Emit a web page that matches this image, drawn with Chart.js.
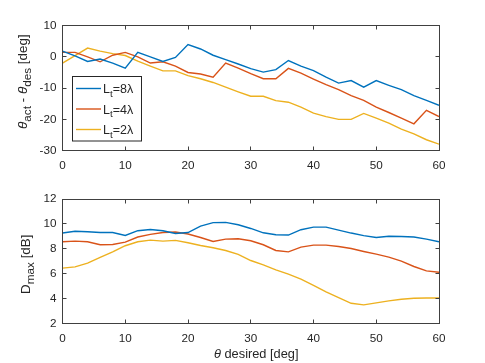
<!DOCTYPE html>
<html>
<head>
<meta charset="utf-8">
<script src="https://cdn.jsdelivr.net/npm/chart.js@4.4.1/dist/chart.umd.min.js"></script>
<style>
  html, body { margin: 0; padding: 0; background: #fff; }
  #wrap { position: relative; width: 485px; height: 363px; }
  #wrap canvas { position: absolute; left: 0; top: 0; }
</style>
</head>
<body>
<div id="wrap">
  <canvas id="errChart" width="485" height="363"></canvas>
  <canvas id="dmaxChart" width="485" height="363"></canvas>
</div>
<script>
// theta desired [deg]
const thetaDes = [0, 2, 4, 6, 8, 10, 12, 14, 16, 18, 20, 22, 24, 26, 28, 30,
                  32, 34, 36, 38, 40, 42, 44, 46, 48, 50, 52, 54, 56, 58, 60];

// pointing error theta_act - theta_des [deg]
const err8 = [1.8, 0.3, -1.5, -0.7, -2.0, -3.6, 1.4, 0, -1.5, -0.2, 3.9, 2.5, 0.5, -0.9, -2.3, -3.8,
              -4.9, -4.1, -1.2, -3.0, -4.4, -6.5, -8.4, -7.6, -9.7, -7.6, -9.1, -10.5, -12.4, -13.9, -15.5];
const err4 = [1.4, 1.4, 0, -1.6, 0.5, 1.4, 0, -2.0, -1.6, -3.0, -5.0, -5.5, -6.5, -2.0, -3.6, -5.4,
              -7.0, -7.0, -3.7, -5.2, -7.1, -8.9, -10.5, -12.4, -13.9, -16.1, -17.8, -19.6, -21.4, -17.1, -19.1];
const err2 = [-2.0, 0.4, 2.8, 1.8, 1.0, 0.4, -1.4, -3.0, -4.5, -4.5, -6.0, -7.0, -8.2, -9.7, -11.2, -12.6,
              -12.6, -14.0, -14.5, -16.1, -18.0, -19.1, -20.0, -20.0, -18.1, -19.6, -21.2, -23.1, -24.6, -26.5, -27.9];

// max directivity [dB]
const dmax8 = [9.26, 9.4, 9.37, 9.3, 9.3, 9.07, 9.45, 9.55, 9.45, 9.23, 9.3, 9.82, 10.1, 10.12, 9.93, 9.63,
               9.28, 9.12, 9.1, 9.53, 9.74, 9.74, 9.5, 9.26, 9.05, 8.9, 9.0, 8.98, 8.94, 8.77, 8.56];
const dmax4 = [8.56, 8.61, 8.56, 8.32, 8.34, 8.53, 8.94, 9.15, 9.3, 9.34, 9.18, 8.9, 8.58, 8.77, 8.8, 8.64,
               8.32, 7.86, 7.75, 8.13, 8.29, 8.29, 8.18, 8.02, 7.78, 7.56, 7.32, 7.0, 6.57, 6.22, 6.11];
const dmax2 = [6.44, 6.54, 6.84, 7.3, 7.75, 8.24, 8.56, 8.69, 8.61, 8.67, 8.48, 8.26, 8.08, 7.86, 7.54, 7.05,
               6.7, 6.3, 5.95, 5.55, 5.06, 4.53, 4.07, 3.61, 3.48, 3.64, 3.8, 3.94, 4.02, 4.04, 4.04];

const seriesNames = ["8", "4", "2"];   // L_t = N lambda
const colors = ["#0072BD", "#D95319", "#EDB120"];

const FONT = "'Liberation Sans', Arial, sans-serif";
const AX = "#262626";

// draw text made of parts (italic / subscript) starting at x, baseline y
function richText(ctx, parts, x, y, size, subScale) {
  let cx = x;
  for (const p of parts) {
    const fs = p.sub ? size * (subScale || 0.78) : size;
    ctx.font = `${p.it ? "italic " : ""}${fs}px ${FONT}`;
    ctx.fillText(p.t, cx, y + (p.sub ? size * 0.3 : 0));
    cx += ctx.measureText(p.t).width;
  }
  return cx - x;
}

// MATLAB style box with inward ticks
const boxPlugin = {
  id: "box",
  afterDraw(chart) {
    const { ctx, chartArea: a, scales } = chart;
    const L = Math.floor(a.left) + 0.5, R = Math.floor(a.right) + 0.5;
    const T = Math.floor(a.top) + 0.5, B = Math.floor(a.bottom) + 0.5;
    ctx.save();
    ctx.strokeStyle = "#404040";
    ctx.lineWidth = 1;
    ctx.strokeRect(L, T, R - L, B - T);
    ctx.beginPath();
    scales.x.ticks.forEach(t => {
      const px = Math.floor(scales.x.getPixelForValue(t.value)) + 0.5;
      ctx.moveTo(px, B); ctx.lineTo(px, B - 4);
      ctx.moveTo(px, T); ctx.lineTo(px, T + 4);
    });
    scales.y.ticks.forEach(t => {
      const py = Math.floor(scales.y.getPixelForValue(t.value)) + 0.5;
      ctx.moveTo(L, py); ctx.lineTo(L + 4, py);
      ctx.moveTo(R, py); ctx.lineTo(R - 4, py);
    });
    ctx.stroke();
    ctx.restore();
  }
};

// axis titles (with subscripts) and legend
const textPlugin = {
  id: "texts",
  afterDraw(chart, args, opts) {
    const ctx = chart.ctx;
    ctx.save();
    ctx.fillStyle = AX;
    ctx.textBaseline = "alphabetic";
    if (opts.yTitle) {
      ctx.save();
      ctx.translate(opts.yTitle.x, opts.yTitle.y);
      ctx.rotate(-Math.PI / 2);
      richText(ctx, opts.yTitle.parts, 0, 0, 13.4, 0.88);
      ctx.restore();
    }
    if (opts.xTitle) {
      richText(ctx, opts.xTitle.parts, opts.xTitle.x, opts.xTitle.y, 12.8);
    }
    if (opts.legend) {
      const lg = opts.legend;
      ctx.fillStyle = "#fff";
      ctx.fillRect(lg.x, lg.y, lg.w, lg.h);
      ctx.strokeStyle = "#262626";
      ctx.lineWidth = 1;
      ctx.strokeRect(lg.x + 0.5, lg.y + 0.5, lg.w, lg.h);
      chart.data.datasets.forEach((ds, i) => {
        const y = lg.y + 12.5 + i * 20.5;
        ctx.strokeStyle = ds.borderColor;
        ctx.lineWidth = 1.4;
        ctx.beginPath();
        ctx.moveTo(lg.x + 4, y); ctx.lineTo(lg.x + 29, y);
        ctx.stroke();
        ctx.fillStyle = AX;
        richText(ctx, [{ t: "L" }, { t: "t", sub: true }, { t: "=" + seriesNames[i] + "\u03BB" }],
                 lg.x + 31, y + 4.5, 12.5);
      });
    }
    ctx.restore();
  }
};

function makeChart(id, series, yMin, yMax, yStep, padTop, xHeight, textOpts) {
  return new Chart(document.getElementById(id), {
    type: "line",
    data: {
      datasets: series.map((vals, i) => ({
        label: "L_t=" + seriesNames[i] + "\u03BB",
        data: thetaDes.map((x, k) => ({ x, y: vals[k] })),
        borderColor: colors[i],
        borderWidth: 1.4,
        pointRadius: 0,
        tension: 0,
        fill: false
      }))
    },
    options: {
      responsive: false,
      animation: false,
      layout: { padding: { top: padTop, right: 46, left: 0, bottom: 0 } },
      scales: {
        x: {
          type: "linear", min: 0, max: 60,
          grid: { display: false, drawTicks: false },
          border: { display: false },
          ticks: { stepSize: 10, padding: 8, color: AX, font: { family: FONT, size: 11.7 }, maxRotation: 0 },
          afterFit: s => { s.height = xHeight; }
        },
        y: {
          min: yMin, max: yMax,
          grid: { display: false, drawTicks: false },
          border: { display: false },
          ticks: { stepSize: yStep, padding: 6, color: AX, font: { family: FONT, size: 11.7 } },
          afterFit: s => { s.width = 62.5; }
        }
      },
      plugins: {
        legend: { display: false },
        tooltip: { enabled: false },
        texts: textOpts
      }
    },
    plugins: [boxPlugin, textPlugin]
  });
}

makeChart("errChart", [err8, err4, err2], -30, 10, 10, 25.5, 363 - 150.7, {
  yTitle: {
    x: 27, y: 129,
    parts: [{ t: "\u03B8", it: true }, { t: "act", sub: true }, { t: " - " },
            { t: "\u03B8", it: true }, { t: "des", sub: true }, { t: " [deg]" }]
  },
  legend: { x: 72, y: 76, w: 69, h: 64.5 }
});

makeChart("dmaxChart", [dmax8, dmax4, dmax2], 2, 12, 2, 199, 363 - 323.3, {
  yTitle: {
    x: 29.5, y: 294,
    parts: [{ t: "D" }, { t: "max", sub: true }, { t: " [dB]" }]
  },
  xTitle: {
    x: 214, y: 358,
    parts: [{ t: "\u03B8", it: true }, { t: " desired [deg]" }]
  }
});
</script>
</body>
</html>
